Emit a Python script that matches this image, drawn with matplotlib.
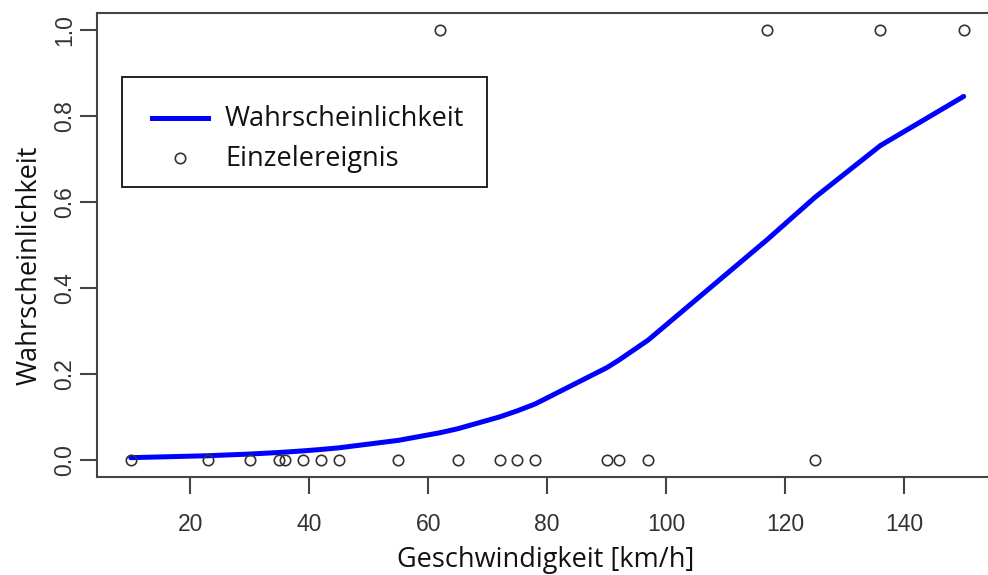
import matplotlib
matplotlib.use("Agg")
import matplotlib.pyplot as plt
from matplotlib.lines import Line2D
from matplotlib.patches import Rectangle
from matplotlib import font_manager

# Observed events: speed [km/h] and outcome (0/1)
speed_zero = [10, 23, 30, 35, 36, 39, 42, 45, 55, 65, 72, 75, 78, 90, 92, 97, 125]
speed_one = [62, 117, 136, 150]

# Fitted probability at each observed speed (sorted)
fit_speed = [10, 23, 30, 35, 36, 39, 42, 45, 55, 62, 65, 72, 75, 78,
             90, 92, 97, 117, 125, 136, 150]
fit_prob = [0.005, 0.0095, 0.0134, 0.0171, 0.018, 0.0208, 0.0241, 0.0279,
            0.0453, 0.063, 0.0724, 0.0998, 0.1141, 0.1301, 0.2142, 0.2315,
            0.2789, 0.5125, 0.6106, 0.7311, 0.8455]

x_ticks = [20, 40, 60, 80, 100, 120, 140]
y_ticks = [0.0, 0.2, 0.4, 0.6, 0.8, 1.0]
legend_labels = ["Wahrscheinlichkeit", "Einzelereignis"]

names = {f.name for f in font_manager.fontManager.ttflist}
tick_font = "Liberation Sans Narrow" if "Liberation Sans Narrow" in names else "Liberation Sans"
label_font = "Open Sans"

W, H = 988, 575
fig = plt.figure(figsize=(W / 100, H / 100), dpi=100)
ax_l, ax_r, ax_t, ax_b = 97.4, 997.0, 12.8, 477.0
ax = fig.add_axes([ax_l / W, 1 - ax_b / H, (ax_r - ax_l) / W, (ax_b - ax_t) / H])

axis_col = "#444444"
blue = "#0000ff"
pt_col = "#333333"
ax.plot(fit_speed, fit_prob, color=blue, lw=3.6, solid_capstyle="round", zorder=2)
ax.plot(speed_zero, [0] * len(speed_zero), "o", ms=7.5, mfc="none", mec=pt_col, mew=1.2, zorder=3)
ax.plot(speed_one, [1] * len(speed_one), "o", ms=7.5, mfc="none", mec=pt_col, mew=1.2, zorder=3)

ax.set_xlim(4.4, 155.6)
ax.set_ylim(-0.04, 1.04)
ax.set_xticks(x_ticks)
ax.set_xticklabels([str(v) for v in x_ticks])
ax.set_yticks(y_ticks)
ax.set_yticklabels([f"{v:.1f}" for v in y_ticks], rotation=90, va="center")

for s in ax.spines.values():
    s.set_color(axis_col)
    s.set_linewidth(1.5)
ax.tick_params(axis="both", direction="out", length=12, width=1.5, color=axis_col,
               labelcolor="#333333", labelsize=16.5)
ax.tick_params(axis="x", pad=14)
ax.tick_params(axis="y", pad=3)
for lab in ax.get_xticklabels() + ax.get_yticklabels():
    lab.set_fontfamily(tick_font)

# axis titles, placed by pixel centre
def px_to_axes(px, py):
    return (px - ax_l) / (ax_r - ax_l), (ax_b - py) / (ax_b - ax_t)

ax.set_xlabel("Geschwindigkeit [km/h]", fontfamily=label_font, fontsize=19.5, color="#111111", va="center")
ax.xaxis.set_label_coords(*px_to_axes(546, 560))
ax.set_ylabel("Wahrscheinlichkeit", fontfamily=label_font, fontsize=19.5, color="#111111", va="center")
ax.yaxis.set_label_coords(*px_to_axes(30, 265))

# legend box drawn in figure pixels
def fx(px):
    return px / W

def fy(py):
    return 1 - py / H

fig.patches.append(Rectangle((fx(122), fy(187)), fx(487) - fx(122), fy(77) - fy(187),
                             transform=fig.transFigure, fill=True, facecolor="white",
                             edgecolor="#111111", lw=1.3, zorder=5))
fig.lines.append(Line2D([fx(152), fx(208)], [fy(118), fy(118)], transform=fig.transFigure,
                        color=blue, lw=3.6, zorder=6))
fig.lines.append(Line2D([fx(180)], [fy(158)], transform=fig.transFigure, ls="none",
                        marker="o", ms=7.5, mfc="none", mec=pt_col, mew=1.2, zorder=6))
for label, py in zip(legend_labels, [119, 159]):
    fig.text(fx(225), fy(py), label, fontfamily=label_font, fontsize=19.5,
             color="#111111", va="center", ha="left", zorder=7)

fig.savefig("out.png", dpi=100)
